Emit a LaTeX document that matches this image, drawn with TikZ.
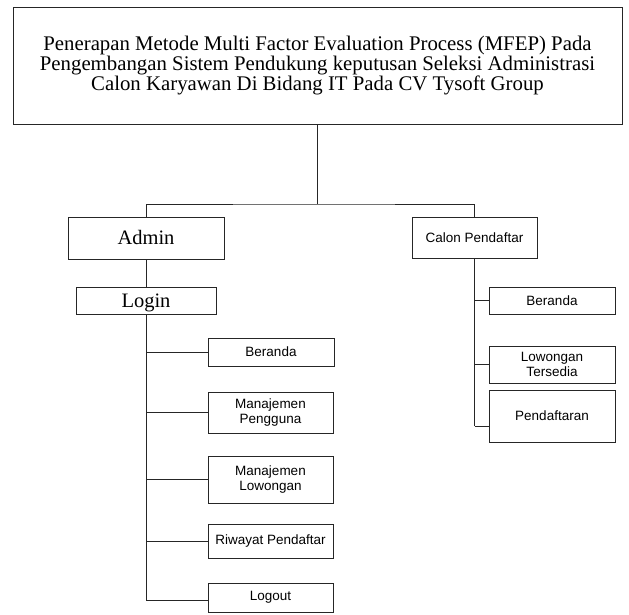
\documentclass[tikz,border=0pt]{standalone}
\usepackage{fontspec}
\setmainfont{Liberation Serif}
\newfontfamily\arialf{Liberation Sans}
\begin{document}
\begin{tikzpicture}[x=1pt,y=-1pt,
  line width=0.8pt,
  box/.style={draw=black!85, fill=white, inner sep=0pt, align=center, minimum width=#1},
  box/.default=125,
  titlefont/.style={font=\fontsize{20.8}{20}\selectfont},
  serifbig/.style={font=\fontsize{20.5}{20}\selectfont, align=none, text height=13.5, text depth=0.5},
  sanslab/.style={font=\arialf\fontsize{13.5}{15}\selectfont},
  conn/.style={draw=black!85, line width=0.8pt}]
\useasboundingbox (0,0) rectangle (629,615);
% title
\node[box=609, minimum height=117, titlefont] (title) at (317.5,65.5)
  {Penerapan Metode Multi Factor Evaluation Process (MFEP) Pada\\
   Pengembangan Sistem Pendukung keputusan Seleksi Administrasi\\
   Calon Karyawan Di Bidang IT Pada CV Tysoft Group};
% level 1
\node[box=156, minimum height=42, serifbig] (admin) at (146,238) {Admin};
\node[box=125, minimum height=41, sanslab] (calon) at (474.5,237.5) {Calon Pendaftar};
\node[box=140, minimum height=27, serifbig] (login) at (146,300.5) {Login};
% admin children
\node[box=126, minimum height=28, sanslab] (ab1) at (271,352) {Beranda};
\node[box=125, minimum height=41, sanslab] (ab2) at (270.5,412.5) {Manajemen\\Pengguna};
\node[box=125, minimum height=47, sanslab] (ab3) at (270.5,479.5) {Manajemen\\Lowongan};
\node[box=125, minimum height=34, sanslab] (ab4) at (270.5,541) {Riwayat Pendaftar};
\node[box=125, minimum height=29, sanslab] (ab5) at (270.5,597.5) {Logout};
% calon children
\node[box=126, minimum height=27, sanslab] (cb1) at (552,300.5) {Beranda};
\node[box=126, minimum height=37, sanslab] (cb2) at (552,364.5) {Lowongan\\Tersedia};
\node[box=126, minimum height=52, sanslab] (cb3) at (552,416) {Pendaftaran};
% connector coordinates
\coordinate (split) at (317.5,204);
\coordinate (lend) at (146,600);
\coordinate (rend) at (474.5,426);
% connectors
\draw[conn] (title.south) -- (split);
\draw[conn] (admin.north) |- (split) -| (calon.north);
\draw[conn] (admin.south) -- (login.north);
\draw[conn] (login.south) -- (lend);
\draw[conn] (login.south |- ab1.west) -- (ab1.west);
\draw[conn] (login.south |- ab2.west) -- (ab2.west);
\draw[conn] (login.south |- ab3.west) -- (ab3.west);
\draw[conn] (login.south |- ab4.west) -- (ab4.west);
\draw[conn] (lend) -- (lend -| ab5.west);
\draw[conn] (calon.south) -- (rend);
\draw[conn] (calon.south |- cb1.west) -- (cb1.west);
\draw[conn] (calon.south |- cb2.west) -- (cb2.west);
\draw[conn] (rend) -- (rend -| cb3.west);
\end{tikzpicture}
\end{document}
